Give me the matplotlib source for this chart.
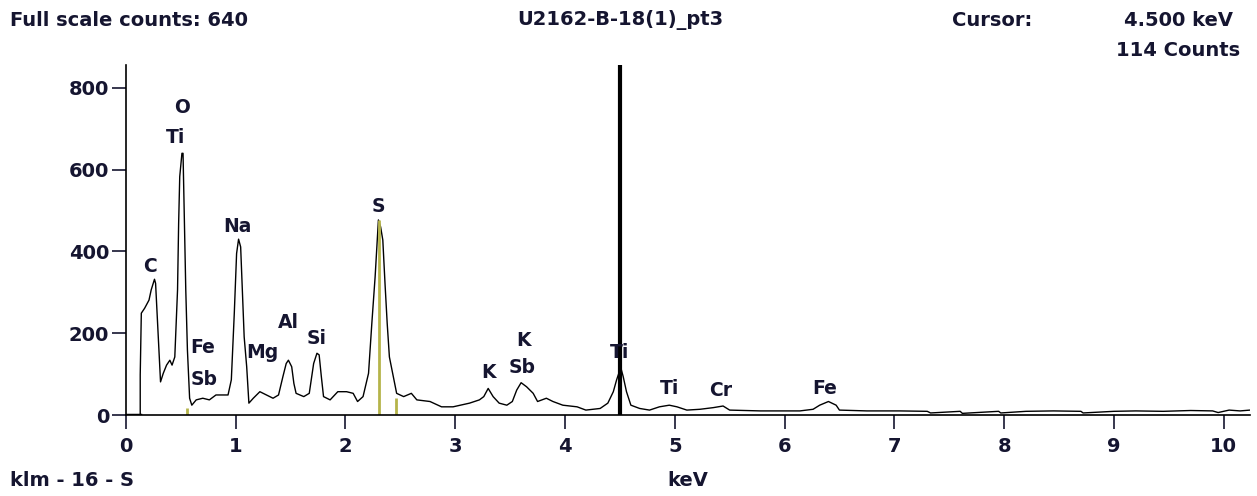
import numpy as np
from matplotlib import pyplot as plt

# spectrum (keV, counts)
energy_kev = [0.00, 0.13, 0.13, 0.14, 0.17, 0.21, 0.23, 0.26, 0.27, 0.285, 0.30, 0.315,
              0.34, 0.37, 0.40, 0.42, 0.445, 0.47, 0.48, 0.49, 0.51, 0.52, 0.53, 0.545,
              0.56, 0.58, 0.60, 0.64, 0.70, 0.76, 0.82, 0.885, 0.93, 0.96, 0.987, 1.008,
              1.026, 1.045, 1.06, 1.077, 1.10, 1.12, 1.16, 1.22, 1.28, 1.34, 1.39, 1.43,
              1.46, 1.48, 1.51, 1.53, 1.55, 1.62, 1.67, 1.71, 1.74, 1.76, 1.78, 1.80,
              1.86, 1.93, 2.01, 2.07, 2.11, 2.16, 2.21, 2.24, 2.27, 2.29, 2.30, 2.32,
              2.34, 2.36, 2.38, 2.40, 2.43, 2.466, 2.53, 2.60, 2.65, 2.77, 2.875, 2.98,
              3.13, 3.22, 3.26, 3.30, 3.345, 3.40, 3.47, 3.52, 3.56, 3.60, 3.65, 3.71,
              3.75, 3.83, 3.89, 3.98, 4.11, 4.19, 4.32, 4.39, 4.44, 4.47, 4.50, 4.51,
              4.53, 4.56, 4.60, 4.68, 4.77, 4.86, 4.95, 5.02, 5.11, 5.23, 5.35, 5.44,
              5.50, 5.65, 5.78, 5.93, 6.14, 6.26, 6.32, 6.40, 6.47, 6.50, 6.75, 7.05,
              7.30, 7.33, 7.60, 7.62, 7.95, 7.97, 8.20, 8.45, 8.70, 8.72, 9.00, 9.20,
              9.45, 9.70, 9.90, 9.95, 10.05, 10.15, 10.24]
counts = [0, 0, 98, 249, 261, 281, 306, 332, 322, 240, 159, 81,
          102, 122, 134, 122, 142, 306, 469, 583, 640, 640, 509, 306,
          159, 41, 24, 37, 41, 37, 49, 49, 49, 86, 249, 395,
          430, 411, 306, 191, 118, 29, 41, 57, 49, 41, 49, 94,
          126, 134, 118, 77, 53, 45, 53, 126, 151, 147, 94, 45,
          37, 57, 57, 53, 33, 45, 102, 224, 338, 428, 477, 460,
          428, 322, 224, 142, 102, 53, 45, 53, 37, 33, 20, 20,
          29, 37, 45, 65, 45, 29, 24, 33, 61, 79, 69, 53,
          33, 41, 33, 24, 20, 12, 16, 29, 57, 86, 110, 114,
          94, 57, 24, 16, 12, 20, 24, 20, 12, 14, 18, 22,
          12, 11, 10, 10, 10, 14, 24, 33, 24, 12, 10, 10,
          9, 5, 9, 4, 9, 5, 9, 10, 9, 5, 9, 10,
          9, 11, 10, 6, 12, 10, 12]

# element markers
line_kev = [0.56, 2.307, 2.464]
line_counts = [16, 477, 41]

# peak labels
label_text = ['O', 'Ti', 'C', 'Na', 'Fe', 'Sb', 'Mg', 'Al', 'Si', 'S',
              'K', 'K', 'Sb', 'Ti', 'Ti', 'Cr', 'Fe']
label_kev = [0.51, 0.455, 0.22, 1.02, 0.70, 0.71, 1.24, 1.48, 1.74, 2.30,
             3.30, 3.62, 3.61, 4.50, 4.95, 5.42, 6.37]
label_counts = [751, 678, 364, 462, 164, 86, 152, 225, 188, 511,
                103, 183, 115, 154, 66, 61, 66]

cursor_kev = 4.5

txt = '#151530'
plt.rcParams['font.family'] = 'DejaVu Sans'
plt.rcParams['font.weight'] = 'bold'

fig = plt.figure(figsize=(12.57, 4.96), dpi=100)
ax = fig.add_axes([0.1002, 0.1633, 0.8942, 0.7057])

ax.plot(energy_kev, counts, color='black', lw=1.0)
ax.plot([0, 0.13], [0, 0], color='black', lw=2.5)
ax.vlines(line_kev, 0, line_counts, color='#b5b44a', lw=2)
ax.axvline(cursor_kev, color='black', lw=3)

for t, x, y in zip(label_text, label_kev, label_counts):
    ax.text(x, y, t, ha='center', va='center', fontsize=13.5, fontweight='bold', color=txt)

ax.set_xlim(0, 10.24)
ax.set_ylim(0, 856)
ax.set_xticks(range(0, 11))
ax.set_yticks([0, 200, 400, 600, 800])
ax.tick_params(direction='out', length=10, width=1.2, labelsize=14, colors=txt)
ax.tick_params(axis='x', pad=6)
ax.tick_params(axis='y', pad=2)
for lbl in ax.get_xticklabels() + ax.get_yticklabels():
    lbl.set_fontweight('bold')
ax.spines['top'].set_visible(False)
ax.spines['right'].set_visible(False)
ax.spines['left'].set_linewidth(1.2)
ax.spines['bottom'].set_linewidth(1.2)

fs = 14
fig.text(10 / 1257, 1 - 20 / 496, 'Full scale counts: 640', fontsize=fs, fontweight='bold', color=txt, va='center')
fig.text(620 / 1257, 1 - 20 / 496, 'U2162-B-18(1)_pt3', fontsize=fs, fontweight='bold', color=txt, va='center', ha='center')
fig.text(952 / 1257, 1 - 20 / 496, 'Cursor:', fontsize=fs, fontweight='bold', color=txt, va='center')
fig.text(1233 / 1257, 1 - 20 / 496, '4.500 keV', fontsize=fs, fontweight='bold', color=txt, va='center', ha='right')
fig.text(1240 / 1257, 1 - 50 / 496, '114 Counts', fontsize=fs, fontweight='bold', color=txt, va='center', ha='right')
fig.text(10 / 1257, 1 - 480 / 496, 'klm - 16 - S', fontsize=fs, fontweight='bold', color=txt, va='center')
fig.text(667 / 1257, 1 - 480 / 496, 'keV', fontsize=fs, fontweight='bold', color=txt, va='center')

fig.savefig('out.png', dpi=100)
